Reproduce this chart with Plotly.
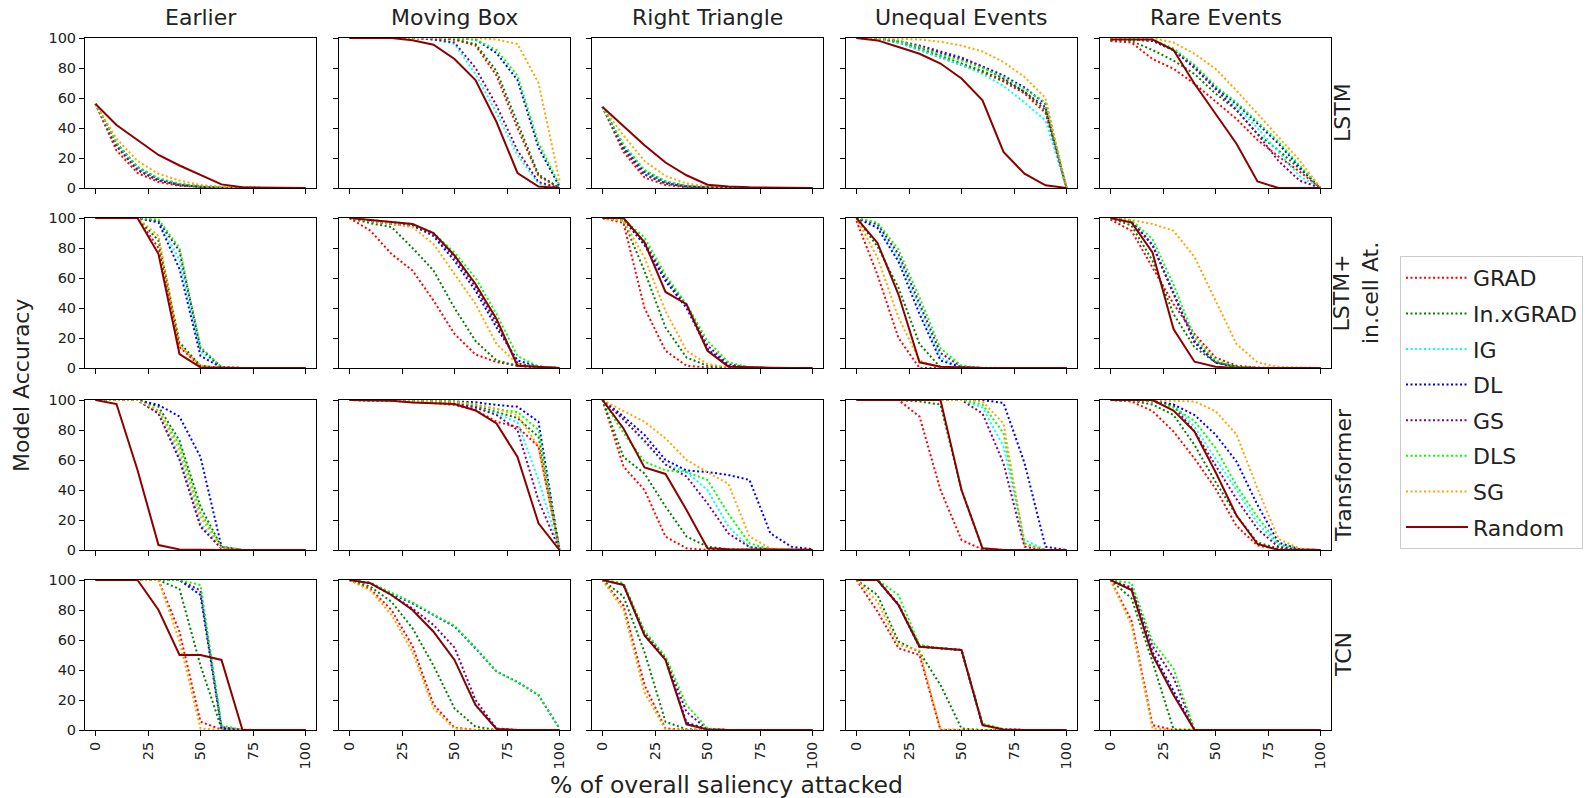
import plotly.graph_objects as go

# ---------------- data ----------------
X = [0, 10, 20, 30, 40, 50, 60, 70, 80, 90, 100]
METHODS = ["GRAD", "In.xGRAD", "IG", "DL", "GS", "DLS", "SG", "Random"]
COLUMNS = ["Earlier", "Moving Box", "Right Triangle", "Unequal Events", "Rare Events"]
ROWS = ["LSTM", "LSTM+<br>in.cell At.", "Transformer", "TCN"]
X_TICKS = [0, 25, 50, 75, 100]
Y_TICKS = [0, 20, 40, 60, 80, 100]

lstm_earlier = {
    "GRAD":     [56, 25, 10, 4, 1.5, 0.5, 0, 0, 0, 0, 0],
    "In.xGRAD": [56, 28, 12, 5, 2, 0.7, 0.2, 0, 0, 0, 0],
    "IG":       [56, 29, 13, 6, 2.5, 1, 0.3, 0, 0, 0, 0],
    "DL":       [56, 30, 14, 6, 2.5, 1, 0.3, 0, 0, 0, 0],
    "GS":       [56, 28, 12, 5, 2, 0.8, 0.2, 0, 0, 0, 0],
    "DLS":      [56, 30, 14, 6.5, 3, 1, 0.3, 0, 0, 0, 0],
    "SG":       [56, 33, 18, 9.5, 5, 2, 0.8, 0.2, 0, 0, 0],
    "Random":   [56, 42, 32, 22, 15, 8.5, 2.4, 0.5, 0.2, 0, 0],
}
lstm_moving = {
    "GRAD":     [100, 100, 100, 100, 100, 99, 95, 75, 40, 8, 0],
    "In.xGRAD": [100, 100, 100, 100, 100, 99, 96, 78, 44, 9, 0],
    "IG":       [100, 100, 100, 100, 99, 96, 76, 50, 22, 3, 0],
    "DL":       [100, 100, 100, 100, 100, 100, 99, 90, 72, 27, 1],
    "GS":       [100, 100, 100, 100, 99, 97, 80, 55, 25, 4, 0],
    "DLS":      [100, 100, 100, 100, 100, 100, 99, 92, 75, 30, 2],
    "SG":       [100, 100, 100, 100, 100, 100, 100, 99, 96, 70, 5],
    "Random":   [100, 100, 100, 98.5, 95.5, 86, 72, 44, 10, 1, 0],
}
lstm_triangle = {
    "GRAD":     [54, 24, 7, 2, 0.5, 0, 0, 0, 0, 0, 0],
    "In.xGRAD": [54, 26, 9, 3, 1, 0.3, 0, 0, 0, 0, 0],
    "IG":       [54, 27, 10, 3.5, 1, 0.3, 0, 0, 0, 0, 0],
    "DL":       [54, 28, 11, 4, 1.2, 0.3, 0, 0, 0, 0, 0],
    "GS":       [54, 26, 9, 3, 1, 0.3, 0, 0, 0, 0, 0],
    "DLS":      [54, 29, 12, 4.5, 1.5, 0.5, 0, 0, 0, 0, 0],
    "SG":       [54, 35, 18, 8, 3, 1, 0.3, 0, 0, 0, 0],
    "Random":   [54, 41, 28.5, 17, 8.5, 2.2, 1, 0.5, 0.2, 0, 0],
}
lstm_unequal = {
    "GRAD":     [100, 99.5, 97, 92, 87, 82, 77, 71, 63, 50, 0],
    "In.xGRAD": [100, 99.5, 97, 93, 88, 83, 78, 72, 64, 52, 0],
    "IG":       [100, 99.5, 97, 92, 87, 82, 76, 68, 57, 45, 0],
    "DL":       [100, 100, 98, 94, 90, 86, 81, 75, 67, 56, 0],
    "GS":       [100, 100, 98, 95, 91, 87, 81, 73, 64, 54, 0],
    "DLS":      [100, 100, 98, 94, 89, 85, 80, 74, 66, 57, 0],
    "SG":       [100, 100, 99.5, 99, 97.5, 95, 91, 84, 74, 60, 0],
    "Random":   [100, 98.4, 94, 89.5, 83, 73, 58.5, 24, 9.5, 1.8, 0],
}
lstm_rare = {
    "GRAD":     [98, 97, 86, 79.5, 69.5, 58, 46, 32, 21, 11, 0],
    "In.xGRAD": [99, 98, 92, 85, 76, 63, 52, 36, 25, 13, 0],
    "IG":       [99, 99, 98, 92, 80, 66, 54, 40, 24, 8, 0],
    "DL":       [99, 99, 98.5, 92, 81, 67, 56, 43, 29.5, 14, 0],
    "GS":       [99, 99, 98, 92, 80, 66, 52, 36, 18, 5, 0],
    "DLS":      [99, 99, 99, 93, 82, 68, 57, 44, 31, 15, 0],
    "SG":       [100, 100, 100, 97, 89.5, 79.5, 65, 49.5, 34, 18.5, 0],
    "Random":   [99, 99, 99, 92, 69.5, 49.5, 29.5, 4.4, 0, 0, 0],
}
att_earlier = {
    "GRAD":     [100, 100, 100, 80, 14, 1, 0, 0, 0, 0, 0],
    "In.xGRAD": [100, 100, 100, 85, 17, 1.5, 0, 0, 0, 0, 0],
    "IG":       [100, 100, 100, 98, 72, 11, 0.5, 0, 0, 0, 0],
    "DL":       [100, 100, 100, 97, 66, 8, 0.3, 0, 0, 0, 0],
    "GS":       [100, 100, 100, 98, 78, 13, 0.5, 0, 0, 0, 0],
    "DLS":      [100, 100, 100, 99, 80, 14, 0.5, 0, 0, 0, 0],
    "SG":       [100, 100, 100, 88, 15, 1.5, 0, 0, 0, 0, 0],
    "Random":   [100, 100, 100, 76, 9.3, 0.4, 0, 0, 0, 0, 0],
}
att_moving = {
    "GRAD":     [100, 91.5, 76, 65, 45, 22.7, 9, 4, 1.5, 0.3, 0],
    "In.xGRAD": [100, 96.5, 94, 80, 65, 40, 18, 5, 1.5, 0.3, 0],
    "IG":       [100, 98, 96, 95, 89, 74, 55, 30, 3, 0.5, 0],
    "DL":       [100, 98, 96, 95, 88, 71.5, 51.5, 27, 5, 1, 0],
    "GS":       [100, 98, 96, 95, 89, 74, 54, 30, 3, 0.5, 0],
    "DLS":      [100, 98.5, 97, 96, 90, 77, 60, 36, 8, 1, 0],
    "SG":       [100, 98, 96, 94, 82.7, 62.7, 42.7, 16, 2.7, 0.5, 0],
    "Random":   [100, 98.7, 97, 96, 90, 75, 56, 32.7, 1.5, 0.5, 0],
}
att_triangle = {
    "GRAD":     [100, 96.7, 40, 11.5, 1.5, 0.3, 0, 0, 0, 0, 0],
    "In.xGRAD": [100, 98, 64.6, 27, 7, 1.5, 0.3, 0, 0, 0, 0],
    "IG":       [100, 99, 83, 59, 41, 13, 1.5, 0.3, 0, 0, 0],
    "DL":       [100, 99, 82, 58, 40, 12.6, 1.5, 0.3, 0, 0, 0],
    "GS":       [100, 99, 84, 60, 42, 15, 2.5, 0.3, 0, 0, 0],
    "DLS":      [100, 99, 87, 62, 42.5, 18, 3.8, 0.5, 0, 0, 0],
    "SG":       [100, 98, 73.5, 38, 11.5, 2.6, 0.5, 0, 0, 0, 0],
    "Random":   [100, 100, 83.8, 50.7, 42.5, 11.5, 0.9, 0.3, 0.2, 0, 0],
}
att_unequal = {
    "GRAD":     [98, 62, 20, 0, 0, 0, 0, 0, 0, 0, 0],
    "In.xGRAD": [100, 81, 53.5, 16, 0.4, 0, 0, 0, 0, 0, 0],
    "IG":       [100, 95, 74, 40, 7, 0.5, 0, 0, 0, 0, 0],
    "DL":       [100, 93.4, 71, 36, 5, 0.5, 0, 0, 0, 0, 0],
    "GS":       [100, 96, 76, 43, 10, 1, 0, 0, 0, 0, 0],
    "DLS":      [100, 97, 79, 47, 13, 1.5, 0, 0, 0, 0, 0],
    "SG":       [100, 73.5, 33.6, 4.9, 0, 0, 0, 0, 0, 0, 0],
    "Random":   [100, 83.4, 49, 3.8, 0.9, 0.3, 0, 0, 0, 0, 0],
}
att_rare = {
    "GRAD":     [99, 91.5, 67, 42.7, 22.7, 7, 1.5, 0.3, 0, 0, 0],
    "In.xGRAD": [100, 95, 71.5, 36, 13.8, 3.8, 0.8, 0, 0, 0, 0],
    "IG":       [100, 98, 82.7, 51, 18, 3.8, 0.8, 0, 0, 0, 0],
    "DL":       [100, 98, 82, 50, 17, 3.5, 0.8, 0, 0, 0, 0],
    "GS":       [100, 98, 82, 50, 18, 3.8, 0.8, 0, 0, 0, 0],
    "DLS":      [100, 98.5, 86, 55.5, 20.5, 5, 1, 0, 0, 0, 0],
    "SG":       [100, 98.7, 96, 91.5, 74, 45, 16, 3.8, 0.8, 0.3, 0],
    "Random":   [100, 97, 77, 26, 4.2, 0.9, 0, 0, 0, 0, 0],
}
trf_earlier = {
    "GRAD":     [100, 100, 100, 91, 61, 16, 1, 0, 0, 0, 0],
    "In.xGRAD": [100, 100, 100, 95.5, 73, 29, 2, 0, 0, 0, 0],
    "IG":       [100, 100, 100, 92, 63, 18, 1.5, 0, 0, 0, 0],
    "DL":       [100, 100, 100, 96.7, 89, 62, 2.2, 0, 0, 0, 0],
    "GS":       [100, 100, 100, 91, 60, 15.5, 1, 0, 0, 0, 0],
    "DLS":      [100, 100, 100, 93, 70, 25, 2, 0, 0, 0, 0],
    "SG":       [100, 100, 100, 93, 66.7, 22, 1.5, 0, 0, 0, 0],
    "Random":   [100, 97.3, 53.3, 3.3, 0.4, 0, 0, 0, 0, 0, 0],
}
trf_moving = {
    "GRAD":     [100, 99.8, 99.5, 99, 98, 96.7, 93.3, 85.5, 82, 69, 0],
    "In.xGRAD": [100, 100, 99.8, 99.5, 99, 98, 96, 92, 88, 75.5, 0],
    "IG":       [100, 100, 99.8, 99.5, 99, 98, 95, 91, 85, 46.7, 0],
    "DL":       [100, 100, 100, 100, 99.5, 99, 98.5, 96.7, 95.5, 85.5, 0],
    "GS":       [100, 100, 99.8, 99.5, 99, 98, 95, 90, 80, 33, 0],
    "DLS":      [100, 100, 100, 99.8, 99.5, 99, 97, 94, 92, 80, 0],
    "SG":       [100, 100, 99.8, 99.5, 99, 98.5, 97, 94, 90, 69, 0],
    "Random":   [100, 100, 99.5, 98.4, 97.8, 97.3, 93, 84.4, 62, 17.8, 0],
}
trf_triangle = {
    "GRAD":     [100, 55.6, 40, 8.9, 1.1, 0, 0, 0, 0, 0, 0],
    "In.xGRAD": [100, 62, 51, 29, 9, 2.2, 0.5, 0, 0, 0, 0],
    "IG":       [100, 87, 72, 57, 52, 40, 15.5, 2, 0.5, 0, 0],
    "DL":       [100, 89, 76.7, 60, 53, 52, 50, 46.7, 11, 2.2, 0.5],
    "GS":       [100, 87, 73, 57, 49, 31, 11, 2, 0.3, 0, 0],
    "DLS":      [100, 78, 59, 53, 52, 46.7, 24, 4.4, 0.5, 0, 0],
    "SG":       [100, 93, 85.5, 74.4, 60, 52, 44, 8.9, 1, 0, 0],
    "Random":   [100, 81, 55, 50.7, 26.7, 1.1, 0.5, 0.3, 0.2, 0.2, 0.2],
}
trf_unequal = {
    "GRAD":     [100, 100, 100, 89, 40, 6.7, 0.3, 0, 0, 0, 0],
    "In.xGRAD": [100, 100, 100, 99, 97, 40, 1, 0, 0, 0, 0],
    "IG":       [100, 100, 100, 100, 100, 100, 95, 69, 6.7, 0, 0],
    "DL":       [100, 100, 100, 100, 100, 100, 100, 98, 58, 2.2, 0],
    "GS":       [100, 100, 100, 100, 100, 100, 91, 57.8, 2.2, 0, 0],
    "DLS":      [100, 100, 100, 100, 100, 100, 97, 78, 4.4, 0, 0],
    "SG":       [100, 100, 100, 100, 100, 100, 99, 84.4, 3.3, 0, 0],
    "Random":   [100, 100, 100, 100, 100, 40, 1.1, 0, 0, 0, 0],
}
trf_rare = {
    "GRAD":     [100, 99, 92.6, 79, 61, 41, 16, 3, 0.5, 0, 0],
    "In.xGRAD": [100, 99.5, 97, 90, 70, 45.5, 23, 5, 1, 0, 0],
    "IG":       [100, 100, 99, 97, 82, 61, 40, 18, 3, 0.5, 0],
    "DL":       [100, 100, 99.5, 97, 90, 77, 59, 30, 5, 0.5, 0],
    "GS":       [100, 100, 99, 96, 79, 56.7, 34, 14, 2, 0.3, 0],
    "DLS":      [100, 100, 99.5, 95, 86, 68, 43, 22, 4, 0.5, 0],
    "SG":       [100, 100, 100, 99.5, 99, 92.6, 77, 41, 7.4, 1, 0],
    "Random":   [100, 100, 100, 93, 79, 52, 23, 4, 0, 0, 0],
}
tcn_earlier = {
    "GRAD":     [100, 100, 100, 100, 65.5, 5.5, 0.3, 0, 0, 0, 0],
    "In.xGRAD": [100, 100, 100, 100, 94, 43, 1, 0, 0, 0, 0],
    "IG":       [100, 100, 100, 100, 100, 90, 2, 0, 0, 0, 0],
    "DL":       [100, 100, 100, 100, 100, 90, 1, 0, 0, 0, 0],
    "GS":       [100, 100, 100, 100, 100, 93, 2, 0, 0, 0, 0],
    "DLS":      [100, 100, 100, 100, 100, 96.7, 3, 0, 0, 0, 0],
    "SG":       [100, 100, 100, 100, 59, 1, 0, 0, 0, 0, 0],
    "Random":   [100, 100, 100, 80, 50, 50, 46.7, 0, 0, 0, 0],
}
tcn_moving = {
    "GRAD":     [100, 94, 80, 56, 17, 1.5, 0, 0, 0, 0, 0],
    "In.xGRAD": [100, 95.5, 85.5, 67.8, 43, 14.4, 2.2, 0, 0, 0, 0],
    "IG":       [100, 97.8, 90, 80, 65.5, 47, 16, 0.7, 0, 0, 0],
    "DL":       [100, 98, 91, 84.4, 76.7, 69, 54.5, 39, 32, 23.3, 1],
    "GS":       [100, 98, 90, 81, 70, 55, 20, 1, 0, 0, 0],
    "DLS":      [100, 98, 91.5, 85, 77, 69.5, 55, 39, 32, 23.3, 1],
    "SG":       [100, 93, 76.7, 52, 14.4, 1, 0, 0, 0, 0, 0],
    "Random":   [100, 97.8, 90, 80, 65.5, 46.7, 16.7, 0.7, 0, 0, 0],
}
tcn_triangle = {
    "GRAD":     [100, 83, 30, 1, 0, 0, 0, 0, 0, 0, 0],
    "In.xGRAD": [100, 89, 52, 5.5, 0.5, 0, 0, 0, 0, 0, 0],
    "IG":       [100, 96.7, 63, 46.7, 4, 0.4, 0, 0, 0, 0, 0],
    "DL":       [100, 97, 64, 47.5, 5, 0.4, 0, 0, 0, 0, 0],
    "GS":       [100, 97, 65, 48, 12, 0.5, 0, 0, 0, 0, 0],
    "DLS":      [100, 98, 66, 49, 16.7, 1, 0, 0, 0, 0, 0],
    "SG":       [100, 80, 25, 0.4, 0, 0, 0, 0, 0, 0, 0],
    "Random":   [100, 96.7, 63, 46.7, 3.8, 0.4, 0, 0, 0, 0, 0],
}
tcn_unequal = {
    "GRAD":     [100, 79, 54.5, 50, 0, 0, 0, 0, 0, 0, 0],
    "In.xGRAD": [100, 90, 59, 52, 30, 1, 0, 0, 0, 0, 0],
    "IG":       [100, 100, 83.3, 55.5, 54.5, 53.3, 3.3, 0.4, 0, 0, 0],
    "DL":       [100, 100, 83.3, 55.5, 54.5, 53.3, 3.5, 0.4, 0, 0, 0],
    "GS":       [100, 100, 84, 56, 54.5, 53.3, 3.5, 0.4, 0, 0, 0],
    "DLS":      [100, 100, 90, 56.7, 54.5, 53.3, 4.4, 0.5, 0, 0, 0],
    "SG":       [100, 85.5, 56.7, 53, 0.4, 0, 0, 0, 0, 0, 0],
    "Random":   [100, 100, 83.3, 55.5, 54.5, 53.3, 3.3, 0.4, 0, 0, 0],
}
tcn_rare = {
    "GRAD":     [100, 73, 3.3, 0, 0, 0, 0, 0, 0, 0, 0],
    "In.xGRAD": [100, 87.8, 45.5, 0.5, 0, 0, 0, 0, 0, 0, 0],
    "IG":       [100, 93.3, 51, 24, 0, 0, 0, 0, 0, 0, 0],
    "DL":       [100, 94, 52, 26, 0, 0, 0, 0, 0, 0, 0],
    "GS":       [100, 95, 56, 35, 0, 0, 0, 0, 0, 0, 0],
    "DLS":      [100, 98, 59, 41, 0, 0, 0, 0, 0, 0, 0],
    "SG":       [100, 70, 1, 0, 0, 0, 0, 0, 0, 0, 0],
    "Random":   [100, 93.3, 50, 23.3, 0, 0, 0, 0, 0, 0, 0],
}

PANELS = [
    [lstm_earlier, lstm_moving, lstm_triangle, lstm_unequal, lstm_rare],
    [att_earlier, att_moving, att_triangle, att_unequal, att_rare],
    [trf_earlier, trf_moving, trf_triangle, trf_unequal, trf_rare],
    [tcn_earlier, tcn_moving, tcn_triangle, tcn_unequal, tcn_rare],
]

# ---------------- styling ----------------
COLORS = {"GRAD": "#ff0000", "In.xGRAD": "#008000", "IG": "#00ffff", "DL": "#0000ff",
          "GS": "#800080", "DLS": "#00ff00", "SG": "#ffa500", "Random": "#8b0000"}
W, H = 1593, 798
COL_LEFT = [85, 339, 592, 846, 1100]
ROW_TOP = [38, 218, 400, 580]
PW, PH = 231, 150
FONT = "DejaVu Sans"

fig = go.Figure()
layout = {}
for r in range(4):
    for c in range(5):
        k = r * 5 + c + 1
        xa = "x" if k == 1 else f"x{k}"
        ya = "y" if k == 1 else f"y{k}"
        data = PANELS[r][c]
        for m in METHODS:
            fig.add_trace(go.Scatter(
                x=X, y=data[m], xaxis=xa, yaxis=ya, mode="lines", name=m,
                legendgroup=m, showlegend=(k == 1),
                line=dict(color=COLORS[m], width=2,
                          dash="solid" if m == "Random" else "2px,2.5px"),
            ))
        common = dict(showline=True, mirror=True, linecolor="black", linewidth=1,
                      ticks="outside", ticklen=5, tickcolor="black", showgrid=False,
                      zeroline=False, automargin=False,
                      tickfont=dict(family=FONT, size=14.5, color="#222222"))
        layout["xaxis" if k == 1 else f"xaxis{k}"] = dict(
            domain=[COL_LEFT[c] / W, (COL_LEFT[c] + PW) / W], anchor=ya,
            range=[-5, 105], tickvals=X_TICKS, showticklabels=(r == 3), tickangle=-90,
            **common)
        layout["yaxis" if k == 1 else f"yaxis{k}"] = dict(
            domain=[1 - (ROW_TOP[r] + PH) / H, 1 - ROW_TOP[r] / H], anchor=xa,
            range=[0, 100], tickvals=Y_TICKS, showticklabels=(c == 0), **common)

annotations = []
for c, t in enumerate(COLUMNS):
    annotations.append(dict(text=t, x=(COL_LEFT[c] + PW / 2) / W, y=1 - 18 / H,
                            xref="paper", yref="paper", xanchor="center", yanchor="middle",
                            showarrow=False, font=dict(family=FONT, size=22, color="#222222")))
row_x = [1343, 1356, 1343, 1343]
for r, t in enumerate(ROWS):
    annotations.append(dict(text=t, x=row_x[r] / W, y=1 - (ROW_TOP[r] + PH / 2) / H,
                            xref="paper", yref="paper", xanchor="center", yanchor="middle",
                            textangle=-90, showarrow=False,
                            font=dict(family=FONT, size=22, color="#222222")))
annotations.append(dict(text="Model Accuracy", x=22 / W, y=1 - 385 / H, xref="paper",
                        yref="paper", xanchor="center", yanchor="middle", textangle=-90,
                        showarrow=False, font=dict(family=FONT, size=22, color="#222222")))
annotations.append(dict(text="% of overall saliency attacked", x=726 / W, y=1 - 785 / H,
                        xref="paper", yref="paper", xanchor="center", yanchor="middle",
                        showarrow=False, font=dict(family=FONT, size=23.5, color="#222222")))

fig.update_layout(
    width=W, height=H, margin=dict(l=0, r=0, t=0, b=0, autoexpand=False),
    paper_bgcolor="white", plot_bgcolor="white",
    annotations=annotations,
    legend=dict(x=1400 / W, y=1 - 256 / H, xanchor="left", yanchor="top",
                bordercolor="#cccccc", borderwidth=1, bgcolor="white",
                font=dict(family=FONT, size=22, color="#222222"),
                tracegroupgap=4, itemwidth=62),
    **layout,
)
fig.write_html("out.html", config={"displayModeBar": False},
               post_script="document.body.style.margin='0';document.body.style.overflow='hidden';")
